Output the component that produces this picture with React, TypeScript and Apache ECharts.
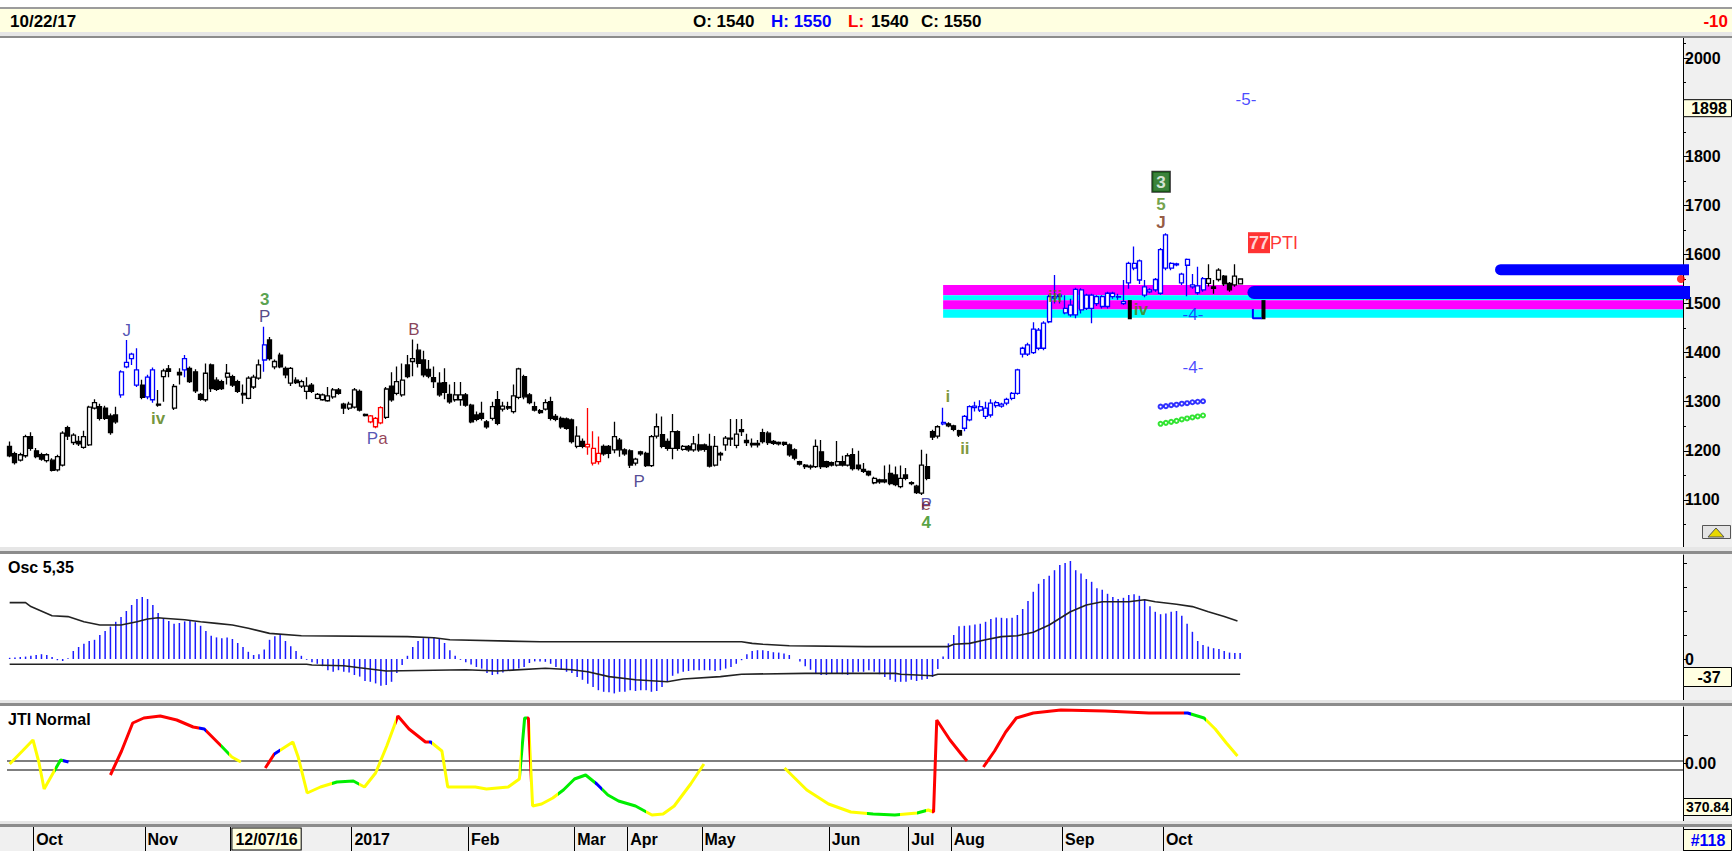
import React, { useEffect, useRef } from "react";
import * as echarts from "echarts";

const N_SLOTS = 316;
const FONT = "'Liberation Sans', Arial, Helvetica, sans-serif";

// ---- price bars (daily OHLC) ----
const opens = [
  1209,1194,1181,1190,1229,1200,1192,1180,1181,1161,
  1171,1247,1217,1219,1207,1212,1287,1290,1287,1271,
  1273,1314,1380,1388,1365,1334,1310,1365,1295,1351,
  1367,1287,1360,1388,1368,1361,1315,1304,1375,1344,
  1341,1350,1351,1341,1317,1307,1330,1348,1385,1426,
  1371,1395,1368,1338,1344,1332,1321,1334,1307,1304,
  1302,1310,1324,1295,1287,1289,1321,1274,1271,1249,
  1257,1268,1332,1317,1314,1375,1382,1405,1385,1366,
  1349,1338,1339,1315,1304,1304,1314,1293,1273,1276,
  1259,1266,1304,1285,1290,1280,1309,1351,1314,1290,
  1282,1285,1300,1270,1266,1265,1263,1209,1219,1213,
  1205,1195,1209,1209,1202,1222,1202,1200,1175,1198,
  1195,1170,1230,1233,1219,1205,1239,1203,1209,1202,
  1212,1212,1209,1171,1195,1212,1226,1211,1243,1221,
  1215,1215,1237,1236,1219,1217,1217,1212,1202,1178,
  1171,1169,1168,1198,1178,1176,1171,1178,1171,1192,
  1171,1162,1158,1135,1141,1141,1154,1151,1127,1151,
  1135,1128,1114,1168,1239,1230,1258,1255,1251,1241,
  1246,1263,1291,1283,1270,1273,1298,1295,1297,1307,
  1317,1397,1416,1400,1446,1409,1463,1511,1517,1490,
  1477,1477,1487,1517,1490,1514,1514,1494,1521,1514,
  1500,1542,1572,1587,1534,1528,1528,1521,1640,1572,
  1581,1542,1590,1538,1522,1551,1541,1534,1549,1556,
  1541,1538,1540,
];
const highs = [
  1219,1198,1196,1233,1238,1206,1196,1195,1185,1192,
  1240,1251,1236,1230,1241,1292,1305,1296,1292,1276,
  1290,1364,1426,1400,1409,1345,1355,1370,1324,1367,
  1375,1336,1368,1395,1372,1366,1318,1378,1378,1350,
  1345,1377,1355,1345,1335,1352,1355,1386,1453,1432,
  1386,1400,1372,1371,1350,1345,1350,1338,1318,1317,
  1330,1328,1328,1298,1300,1328,1325,1276,1273,1269,
  1291,1330,1360,1372,1378,1395,1427,1418,1404,1385,
  1372,1360,1368,1335,1340,1340,1318,1296,1280,1300,
  1263,1300,1322,1300,1300,1335,1369,1355,1318,1300,
  1285,1305,1310,1275,1270,1268,1266,1250,1225,1287,
  1240,1229,1213,1212,1259,1226,1205,1203,1186,1200,
  1198,1232,1276,1270,1225,1275,1242,1212,1212,1230,
  1235,1215,1235,1230,1198,1230,1265,1265,1265,1235,
  1225,1222,1245,1240,1222,1219,1219,1215,1205,1180,
  1173,1172,1223,1222,1180,1178,1220,1190,1195,1205,
  1200,1175,1160,1147,1143,1170,1172,1168,1170,1165,
  1138,1131,1202,1194,1243,1252,1288,1258,1253,1243,
  1273,1293,1300,1303,1300,1305,1302,1298,1308,1320,
  1367,1412,1420,1462,1450,1464,1518,1558,1520,1517,
  1510,1532,1531,1520,1520,1517,1517,1524,1524,1520,
  1548,1585,1616,1590,1548,1531,1552,1613,1643,1584,
  1583,1563,1592,1560,1575,1554,1580,1548,1572,1558,
  1544,1580,1550,
];
const lows = [
  1187,1172,1178,1186,1200,1185,1180,1176,1158,1158,
  1168,1222,1212,1210,1204,1210,1284,1262,1263,1233,
  1255,1308,1368,1375,1330,1305,1305,1298,1290,1300,
  1350,1283,1335,1350,1338,1318,1302,1300,1320,1322,
  1324,1335,1330,1318,1296,1305,1326,1345,1361,1384,
  1366,1368,1348,1332,1336,1328,1305,1318,1305,1302,
  1300,1306,1314,1275,1283,1286,1280,1270,1256,1246,
  1254,1265,1300,1313,1310,1348,1352,1370,1350,1348,
  1328,1310,1305,1296,1300,1292,1290,1256,1260,1262,
  1245,1262,1252,1280,1283,1276,1305,1305,1295,1280,
  1275,1282,1262,1260,1245,1243,1215,1205,1205,1192,
  1170,1172,1190,1185,1195,1188,1190,1165,1170,1190,
  1167,1167,1225,1205,1200,1183,1200,1200,1198,1198,
  1198,1198,1166,1168,1180,1200,1210,1205,1230,1210,
  1207,1207,1215,1212,1212,1211,1210,1188,1181,1170,
  1163,1162,1165,1163,1165,1168,1168,1168,1168,1160,
  1160,1155,1148,1132,1133,1134,1130,1128,1124,1140,
  1130,1112,1110,1140,1222,1225,1252,1248,1240,1228,
  1240,1260,1280,1279,1265,1268,1288,1288,1293,1303,
  1314,1390,1393,1397,1405,1405,1460,1500,1500,1478,
  1473,1470,1480,1487,1460,1495,1490,1490,1510,1508,
  1497,1530,1568,1540,1513,1521,1524,1518,1568,1568,
  1576,1538,1515,1530,1518,1524,1535,1520,1545,1536,
  1524,1534,1540,
];
const closes = [
  1190,1176,1192,1229,1205,1188,1183,1192,1160,1188,
  1236,1230,1232,1214,1229,1289,1298,1266,1266,1237,
  1259,1361,1371,1397,1334,1309,1350,1304,1293,1363,
  1362,1331,1355,1365,1341,1322,1305,1358,1327,1325,
  1327,1358,1334,1321,1314,1348,1350,1375,1416,1388,
  1382,1371,1355,1368,1339,1341,1332,1321,1315,1314,
  1312,1324,1317,1287,1295,1324,1283,1272,1259,1266,
  1288,1326,1304,1341,1344,1351,1388,1378,1355,1352,
  1341,1314,1319,1300,1314,1314,1293,1259,1264,1266,
  1249,1290,1256,1291,1287,1312,1367,1310,1298,1283,
  1278,1298,1266,1264,1249,1246,1219,1230,1209,1208,
  1175,1178,1194,1195,1229,1202,1194,1171,1183,1194,
  1170,1229,1249,1209,1205,1239,1205,1209,1202,1214,
  1202,1203,1169,1209,1192,1226,1224,1234,1239,1217,
  1212,1212,1219,1217,1215,1214,1213,1192,1185,1173,
  1168,1167,1209,1168,1168,1171,1178,1171,1190,1164,
  1164,1158,1151,1144,1137,1137,1133,1131,1144,1144,
  1133,1115,1171,1144,1228,1249,1255,1251,1244,1232,
  1270,1290,1288,1290,1287,1297,1292,1291,1305,1317,
  1365,1409,1397,1448,1409,1460,1514,1514,1514,1481,
  1497,1529,1528,1490,1517,1500,1494,1521,1514,1513,
  1504,1582,1582,1548,1517,1524,1549,1610,1572,1582,
  1579,1560,1578,1534,1536,1528,1551,1531,1568,1540,
  1528,1556,1550,
];
const blueBarRanges = [[21, 24], [26, 27], [33, 33], [48, 48], [176, 176], [180, 225]];
const redBarRanges = [[68, 70], [109, 111]];

// ---- support/resistance zones ----
const bandStart = 176;
const bandTop = [1538, 1517, 1507, 1488];
const bandBottom = [1517, 1507, 1488, 1471];
const bandColor = ["#ff00ff", "#00ffff", "#ff00ff", "#00ffff"];
const targetLines = [
  { start: 234.6, price: 1522.5, width: 13 },
  { start: 281.1, price: 1569, width: 11 },
];
const lastClose = 1550;
const boxPrice = 1898;
const priceTicks = [1100, 1200, 1300, 1400, 1500, 1600, 1700, 1800, 1900, 2000];
const priceLabels = [1100, 1200, 1300, 1400, 1500, 1600, 1700, 1800, 2000];
const priceMinorTicks = [1050, 1150, 1250, 1350, 1450, 1550, 1650, 1750, 1850, 1950, 2030];

// ---- wave labels ----
const annX = [22.1, 28.0, 48.1, 48.1, 69.3, 76.2, 118.7, 172.8, 172.8, 172.8, 176.9, 180.1, 197.1, 213.3, 217.1, 217.1, 217.1, 238.2, 233.1, 223.1, 223.1];
const annY = [1446, 1265, 1509, 1473, 1226, 1448, 1138, 1090, 1090, 1053, 1310, 1204, 1515, 1487, 1748, 1701, 1666, 1624, 1915, 1477, 1369];
const annText = ["J", "iv", "3", "P", "{p|P}{m|a}", "B", "P", "P", "e", "4", "i", "ii", "iii", "iv", "{g|3}", "5", "J", "{r|77}{t|PTI}", "-5-", "-4-", "-4-"];
const annColor = ["#2626a0", "#4f7a08", "#2e8a1e", "#2a1a6a", "#000000", "#6a1030", "#2a1a7a", "#2828a0", "#7a1020", "#2e8a12", "#5f7d08", "#5f7d08", "#5f7d08", "#4f7a08", "#ffffff", "#4f8a1a", "#7a3010", "#ff0000", "#1a1aff", "#1a1aff", "#1a1aff"];
const annBold = [false, true, true, false, false, false, false, false, false, true, true, true, true, true, false, true, true, false, false, false, false];

const markBarsX = [211.2, 236.4];
const markBarsTop = 1507;
const markBarsBottom = 1468;
const blueLPts = [[234.4, 1489], [234.4, 1470], [236.1, 1470]];

const xmX = [217, 218, 219, 220, 221, 222, 223, 224, 225];
const xmBlue = [1290, 1291, 1293, 1294, 1296, 1297, 1299, 1300, 1301];
const xmGreen = [1255, 1257, 1259, 1261, 1264, 1266, 1268, 1270, 1272];

// ---- Osc 5,35 ----
const oscValues = [
  3, 4, 5, 6, 8, 10, 12, 10, 5, -3, -5, 2,
  20, 30, 38, 45, 48, 60, 70, 81, 93,
  105, 120, 135, 150, 155, 150, 135, 115, 102, 95, 88,
  90, 94, 96, 92, 83, 70, 58, 54, 52, 54, 50,
  40, 30, 18, 10, 12, 24, 48, 57, 60, 45, 32, 20, 8,
  -2, -8, -12, -18, -28, -32, -28, -32, -34, -40, -44,
  -55, -57, -61, -67, -65, -57, -35, -15, 8, 30, 45,
  52, 55, 54, 50, 40, 22, 8, -2, -8, -14, -20,
  -24, -35, -40, -38, -34, -28, -28, -24, -20, -10, -6,
  -6, -7, -12, -20, -27, -32, -35, -45, -52, -62, -70,
  -78, -82, -83, -86, -82, -82, -78, -80, -78, -78, -82, -80,
  -70, -55, -42, -36, -32, -30, -28, -28, -28, -28, -30,
  -28, -24, -20, -12, -3, 12, 20, 22, 22, 20, 17,
  16, 14, 10, 0, -6, -18, -27, -35, -40, -40, -36,
  -35, -38, -40, -34, -32, -32,
  -28, -32, -38, -45, -52, -57, -57, -57, -52, -55, -52,
  -50, -45, -25, 6, 39, 60, 82, 83, 84, 86, 88,
  93, 100, 104, 103, 102, 103, 110, 125, 145, 168, 188,
  200, 208, 222, 235, 240, 245, 222, 214, 200, 193, 177,
  173, 163, 155, 150, 153, 160, 162, 158, 148, 132, 118,
  112, 114, 118, 120, 108, 88, 68, 45, 35, 31, 27,
  25, 20, 16, 15, 15,
];
const oscSignalPts = [[0,141],[3,141],[4,131],[8,108],[11,106],[14,93],[17,85],[21,85],[24,93],[26,100],[28,103],[29,102],[33,98],[36,93],[39,89],[42,85],[45,77],[49,64],[55,58],[75,56],[80,53],[83,48],[100,43],[138,43],[140,39],[142,37],[147,33],[161.5,31],[177,31],[178,37],[181,39],[184,48],[187,56],[190,58],[193,67],[196,85],[200,118],[203,135],[206,143],[211,143],[214,148],[216,143],[220,137],[223,131],[226,118],[229,106],[231.5,95]];
const oscLowerPts = [[0,-13],[56,-13],[57,-15],[63,-17],[66,-22],[71,-30],[86,-27],[92,-30],[101,-23],[106,-27],[109,-32],[113,-44],[118,-52],[124,-57],[127,-50],[134,-44],[138,-38],[150,-36],[167,-36],[168,-38],[174,-42],[175,-38],[232,-38]];
const oscBoxValue = "-37";

// ---- JTI Normal ----
const jtiSeg1 = [[0,-1],[2.4,12],[4.4,23],[5.5,1],[6.5,-26],[8.2,-10],[9.6,3],[11.1,1]];
const jtiSeg2 = [[19,-12],[21.1,12],[23.2,40],[25.3,45],[28.4,47],[31.5,43],[34.6,36],[36.7,34],[39.9,17],[41.9,6],[43.6,1]];
const jtiSeg3 = [[48.2,-5],[49.9,9],[53.4,21],[54.4,6],[56.1,-30],[58.6,-24],[61.7,-19],[64.8,-18],[66.9,-24],[69,-10],[71.1,17],[73.2,47],[75.3,34],[78.4,21],[79.4,21],[81.5,12],[82.6,-24],[84.6,-24],[87.8,-24],[89.9,-26],[94,-24],[96.1,-16],[97.1,45],[97.8,45],[98.6,-43],[100.3,-41],[102.4,-35],[104.4,-27],[106.5,-16],[108.6,-12],[110.7,-21],[112.8,-32],[114.8,-38],[118,-43],[121.1,-52],[123.2,-51],[125.3,-43],[128.4,-21],[130.9,-1]];
const jtiSeg4 = [[146.1,-5],[150.3,-27],[154.4,-41],[158.6,-49],[162.8,-51],[166.9,-52],[171.1,-50],[173.2,-47],[174.2,-49],[174.8,43],[177.3,23],[179.4,9],[180.5,2]];
const jtiSeg5 = [[183.6,-4],[185.7,12],[187.8,31],[189.8,45],[193,50],[198.2,53],[206.5,52],[214.8,50],[222.1,50],[225.2,45],[227.3,34],[229.4,20],[231.5,7]];
const jtiZeroLines = [2, -7];
const Y = "#ffff00", G = "#00ee00", R = "#ff0000", B = "#0000ff";
const jtiColorStops: [number, number, string][] = [
  [-1, 8.6, Y], [8.6, 10, G], [10, 12, B],
  [18, 35.7, R], [35.7, 37, B], [37, 39.8, R], [39.8, 41.3, G], [41.3, 44, Y],
  [48, 49.9, R], [49.9, 51, B], [51, 60.7, Y], [60.7, 65.8, G], [65.8, 72.8, Y], [72.8, 79, R], [79, 79.7, B], [79.7, 96.5, Y], [96.5, 97.5, G], [97.5, 98.2, R], [98.2, 103.4, Y], [103.4, 110.3, G], [110.3, 111.7, B], [111.7, 120, G], [120, 132, Y],
  [146, 161.7, Y], [161.7, 167.9, G], [167.9, 171.1, Y], [171.1, 172.7, G], [172.7, 174, Y], [174, 181, R],
  [183, 221.5, R], [221.5, 222.7, B], [222.7, 225.6, G], [225.6, 233, Y],
];

// ---- date axis ----
const dateIdx = [5, 26, 42, 65, 87, 107, 117, 131, 155, 170, 178, 199, 218];
const dateText = ["Oct", "Nov", "12/07/16", "2017", "Feb", "Mar", "Apr", "May", "Jun", "Jul", "Aug", "Sep", "Oct"];

function inRanges(i: number, ranges: number[][]) {
  return ranges.some(([a, b]) => i >= a && i <= b);
}

function txt(x: number, y: number, text: string, fill: string, size = 16, align = "left", weight = "bold") {
  return {
    type: "text", x, y, z: 100, silent: true,
    style: { text, fill, font: `${weight} ${size}px ${FONT}`, textAlign: align, textVerticalAlign: "middle", align, verticalAlign: "middle" },
  };
}
function rect(x: number, y: number, w: number, h: number, fill: string, z = 50, stroke?: string) {
  return {
    type: "rect", z, silent: true,
    shape: { x, y, width: w, height: h },
    style: stroke ? { fill, stroke, lineWidth: 1 } : { fill },
  };
}

export default function App() {
  const ref = useRef<HTMLDivElement>(null);
  useEffect(() => {
    document.body.style.margin = "0";
    const chart = echarts.init(ref.current!, undefined, { renderer: "svg" });
    const cats = Array.from({ length: N_SLOTS }, (_, i) => String(i));
    const dateCats = cats.map((_, i) => {
      const k = dateIdx.indexOf(i);
      return k >= 0 ? dateText[k] : "";
    });
    const candleData = opens.map((o, i) => {
      const item: any = { value: [o, closes[i], lows[i], highs[i]] };
      if (inRanges(i, blueBarRanges)) item.itemStyle = { color: "#ffffff", color0: "#0000ff", borderColor: "#0000ff", borderColor0: "#0000ff" };
      else if (inRanges(i, redBarRanges)) item.itemStyle = { color: "#ffffff", color0: "#ff0000", borderColor: "#ff0000", borderColor0: "#ff0000" };
      return item;
    });
    const richAnn = {
      p: { color: "#2a2aa0", fontSize: 17, fontFamily: FONT },
      m: { color: "#7a1030", fontSize: 17, fontFamily: FONT },
      g: { color: "#ffffff", backgroundColor: "#0a640a", borderColor: "#000", borderWidth: 1, padding: [2, 4, 1, 4], fontSize: 17, fontWeight: "bold", fontFamily: FONT },
      r: { color: "#ffffff", backgroundColor: "#ff0000", padding: [2, 1, 1, 1], fontSize: 18, fontWeight: "bold", fontFamily: FONT },
      t: { color: "#ff0000", fontSize: 18, fontFamily: FONT },
    };
    const axisFont = { color: "#000", fontWeight: "bold", fontSize: 16, fontFamily: FONT };
    const series: any[] = [];
    series.push({
      type: "candlestick", xAxisIndex: 0, yAxisIndex: 0, data: candleData, barWidth: 4.5, z: 5, silent: true,
      itemStyle: { color: "#ffffff", color0: "#000000", borderColor: "#000000", borderColor0: "#000000", borderWidth: 1.3 },
    });
    series.push({
      type: "line", xAxisIndex: 4, yAxisIndex: 0, data: [[bandStart, 1500]], showSymbol: false, silent: true, z: 1,
      lineStyle: { width: 0 },
      markArea: {
        silent: true,
        data: bandTop.map((t, k) => [
          { coord: [bandStart, t], itemStyle: { color: bandColor[k], opacity: 1 } },
          { coord: [N_SLOTS - 0.5, bandBottom[k]] },
        ]),
      },
    });
    targetLines.forEach((tl) => {
      series.push({
        type: "line", xAxisIndex: 4, yAxisIndex: 0, showSymbol: false, silent: true, z: 3, clip: true,
        data: [[tl.start, tl.price], [N_SLOTS + 20, tl.price]],
        lineStyle: { color: "#0000ff", width: tl.width, cap: "round" },
      });
    });
    markBarsX.forEach((x) => {
      series.push({
        type: "line", xAxisIndex: 4, yAxisIndex: 0, showSymbol: false, silent: true, z: 6,
        data: [[x, markBarsTop], [x, markBarsBottom]],
        lineStyle: { color: "#000", width: 4 },
      });
    });
    series.push({
      type: "line", xAxisIndex: 4, yAxisIndex: 0, showSymbol: false, silent: true, z: 6,
      data: blueLPts, lineStyle: { color: "#0000ff", width: 2 },
    });
    series.push({
      type: "scatter", xAxisIndex: 4, yAxisIndex: 0, silent: true, z: 8,
      data: [[N_SLOTS - 0.9, lastClose]], symbolSize: 8, itemStyle: { color: "#ff0000" },
    });
    series.push({
      type: "scatter", xAxisIndex: 4, yAxisIndex: 0, silent: true, z: 10, symbolSize: 1,
      itemStyle: { color: "rgba(0,0,0,0)" },
      data: annText.map((t, k) => ({
        value: [annX[k], annY[k]],
        label: { show: true, position: "inside", formatter: t, color: annColor[k], fontSize: 17, fontWeight: annBold[k] ? "bold" : "normal", fontFamily: FONT, rich: richAnn },
      })),
    });
    series.push({
      type: "scatter", xAxisIndex: 4, yAxisIndex: 0, silent: true, z: 9, symbol: "emptyCircle", symbolSize: 4,
      itemStyle: { color: "#0000ff", borderWidth: 1 }, data: xmX.map((x, k) => [x, xmBlue[k]]),
    });
    series.push({
      type: "scatter", xAxisIndex: 4, yAxisIndex: 0, silent: true, z: 9, symbol: "emptyCircle", symbolSize: 4,
      itemStyle: { color: "#00dd00", borderWidth: 1 }, data: xmX.map((x, k) => [x, xmGreen[k]]),
    });
    // Osc
    series.push({
      type: "bar", xAxisIndex: 1, yAxisIndex: 1, data: oscValues, barWidth: 1.5, silent: true, z: 2,
      itemStyle: { color: "#1a1aff" },
    });
    [oscSignalPts, oscLowerPts].forEach((pts) => {
      series.push({
        type: "line", xAxisIndex: 5, yAxisIndex: 1, data: pts, showSymbol: false, silent: true, z: 3,
        lineStyle: { color: "#222", width: 1.6 },
      });
    });
    // JTI
    jtiZeroLines.forEach((v) => {
      series.push({
        type: "line", xAxisIndex: 6, yAxisIndex: 2, data: [[-0.5, v], [N_SLOTS - 0.5, v]], showSymbol: false, silent: true, z: 2,
        lineStyle: { color: "#000", width: 1.2 },
      });
    });
    const jtiStart = series.length;
    [jtiSeg1, jtiSeg2, jtiSeg3, jtiSeg4, jtiSeg5].forEach((seg) => {
      series.push({
        type: "line", xAxisIndex: 6, yAxisIndex: 2, data: seg, showSymbol: false, silent: true, z: 5,
        lineStyle: { width: 3 },
      });
    });
    const jtiIdx = [0, 1, 2, 3, 4].map((k) => jtiStart + k);

    const hiddenCat = (g: number) => ({ type: "category", gridIndex: g, data: cats, show: false, axisLine: { onZero: false } });
    const hiddenVal = (g: number) => ({ type: "value", gridIndex: g, min: -0.5, max: N_SLOTS - 0.5, show: false, axisLine: { onZero: false } });
    const showTick = (_i: number, v: string) => v !== "";

    const option: any = {
      animation: false,
      backgroundColor: "#ffffff",
      grid: [
        { left: 7, right: 49, top: 38, height: 511 },
        { left: 7, right: 49, top: 555, height: 145 },
        { left: 7, right: 49, top: 707, height: 114 },
        { left: 7, right: 49, top: 827, height: 24 },
      ],
      xAxis: [
        hiddenCat(0), hiddenCat(1), hiddenCat(2),
        {
          type: "category", gridIndex: 3, data: dateCats, position: "top",
          axisLine: { show: false, onZero: false },
          axisTick: { show: false },
          splitLine: { show: true, interval: showTick, lineStyle: { color: "#000", width: 1 } },
          axisLabel: {
            show: true, inside: true, interval: showTick, align: "left", verticalAlign: "middle", margin: 12,
            ...axisFont,
            formatter: (v: string) => (v === "12/07/16" ? "{box|12/07/16}" : v),
            rich: { box: { backgroundColor: "#ffffe1", borderColor: "#000", borderWidth: 1, padding: [3, 3, 2, 3], ...axisFont } },
          },
        },
        hiddenVal(0), hiddenVal(1), hiddenVal(2),
      ],
      yAxis: [
        {
          type: "value", gridIndex: 0, position: "right", min: 1000, max: 2041,
          axisLine: { show: true, onZero: false, lineStyle: { color: "#000", width: 1 } },
          axisTick: { show: true, length: 7, customValues: priceTicks, lineStyle: { color: "#000" } },
          splitLine: { show: false },
          axisLabel: { show: true, margin: 2, customValues: priceLabels, ...axisFont, formatter: (v: number) => String(v) },
        },
        {
          type: "value", gridIndex: 1, position: "right", min: -102.5, max: 260,
          axisLine: { show: true, onZero: false, lineStyle: { color: "#000", width: 1 } },
          axisTick: { show: true, length: 4, customValues: [0, 60, 120, 180, 240], lineStyle: { color: "#000" } },
          splitLine: { show: false },
          axisLabel: { show: true, margin: 2, customValues: [0], ...axisFont, formatter: (v: number) => (v === 0 ? "0" : "") },
        },
        {
          type: "value", gridIndex: 2, position: "right", min: -58, max: 56,
          axisLine: { show: true, onZero: false, lineStyle: { color: "#000", width: 1 } },
          axisTick: { show: true, length: 5, customValues: [0, 28], lineStyle: { color: "#000" } },
          splitLine: { show: false },
          axisLabel: { show: true, margin: 2, customValues: [0], ...axisFont, formatter: (v: number) => (v === 0 ? "0.00" : "") },
        },
        { type: "value", gridIndex: 3, show: false, axisLine: { onZero: false } },
        {
          type: "value", gridIndex: 0, position: "right", min: 1000, max: 2041,
          axisLine: { show: false, onZero: false },
          axisTick: { show: true, length: 3, customValues: priceMinorTicks, lineStyle: { color: "#000" } },
          axisLabel: { show: false },
          splitLine: { show: false },
        },
      ],
      visualMap: [
        {
          type: "piecewise", show: false, dimension: 0, seriesIndex: jtiIdx,
          pieces: jtiColorStops.map(([a, b, c]) => ({ gte: a, lt: b, color: c })),
          outOfRange: { color: Y },
        },
      ],
      series,
    };
    chart.setOption(option);

    const yBox = chart.convertToPixel({ yAxisIndex: 0 }, boxPrice) as number;
    const graphics: any[] = [
      rect(0, 7, 1732, 2, "#9c9c9c"),
      rect(0, 9, 1732, 23, "#ffffe1"),
      rect(0, 32, 1732, 4, "#e6e6e6"),
      rect(0, 36, 1732, 2, "#8c8c8c"),
      rect(1683.5, 38, 49, 783, "#f0f0f0", -10),
      rect(0, 827, 1732, 24, "#f0f0f0", -10),
      rect(0, 547, 1732, 4, "#e6e6e6"),
      rect(0, 551, 1732, 3, "#8c8c8c"),
      rect(0, 700, 1732, 3, "#e6e6e6"),
      rect(0, 703, 1732, 3, "#8c8c8c"),
      rect(0, 821, 1732, 3, "#e6e6e6"),
      rect(0, 824, 1732, 3, "#8c8c8c"),
      txt(10, 21, "10/22/17", "#000", 17),
      txt(693, 21, "O: 1540", "#000", 17),
      txt(771, 21, "H: 1550", "#0000ff", 17),
      txt(848, 21, "L:", "#ff0000", 17),
      txt(871, 21, "1540", "#000", 17),
      txt(921, 21, "C: 1550", "#000", 17),
      txt(1728, 21, "-10", "#ff0000", 17, "right"),
      txt(8, 567, "Osc 5,35", "#000", 16),
      txt(8, 719, "JTI Normal", "#000", 16),
      rect(1683.5, yBox - 8.5, 48, 17, "#ffffe1", 90, "#000"),
      txt(1709, yBox, String(boxPrice), "#000", 16, "center"),
      rect(1683.5, 667.5, 48, 19, "#ffffe1", 90, "#000"),
      txt(1709, 677, oscBoxValue, "#000", 16, "center"),
      rect(1683.5, 798.5, 48, 17, "#ffffe1", 90, "#000"),
      txt(1707.5, 807, "370.84", "#000", 14, "center"),
      rect(1683.5, 829.5, 48, 21, "#ffffe1", 90, "#000"),
      txt(1708, 840, "#118", "#0000ff", 16, "center"),
      rect(1702.5, 525.5, 28, 13, "#e4e4e4", 90, "#555"),
      { type: "polygon", z: 95, silent: true, shape: { points: [[1708, 537], [1716, 528], [1724, 537]] }, style: { fill: "#e8d800", stroke: "#555", lineWidth: 1 } },
    ];
    chart.setOption({ graphic: { elements: graphics } });
    return () => chart.dispose();
  }, []);
  return <div ref={ref} style={{ position: "absolute", left: 0, top: 0, width: 1732, height: 851, background: "#fff" }} />;
}
